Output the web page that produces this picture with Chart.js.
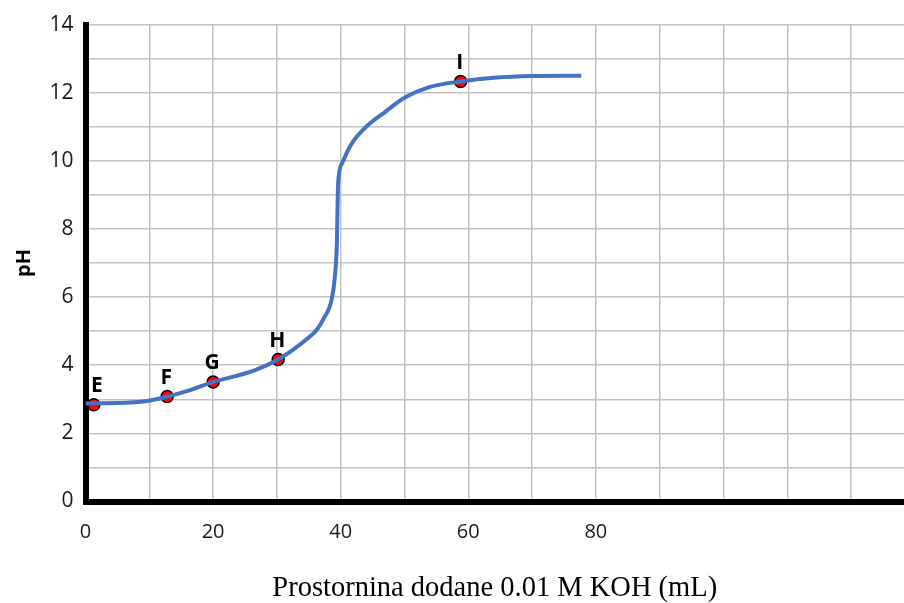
<!DOCTYPE html>
<html>
<head>
<meta charset="utf-8">
<script src="https://cdn.jsdelivr.net/npm/chart.js@4.4.1/dist/chart.umd.min.js"></script>
<style>
  body { margin: 0; background: #fff; }
  #wrap { width: 904px; height: 603px; }
</style>
</head>
<body>
<div id="wrap"><canvas id="chart" width="904" height="603"></canvas></div>
<script>
// titration curve
var curveVolume = [0, 5, 9.6, 12.8, 16.4, 20, 23.5, 26.5, 30.2, 32.5, 34.7, 36.3, 37.3, 38.6, 39.1, 39.4, 39.5, 39.6, 40.2, 41.7, 44, 47, 50, 54, 58.8, 64, 70, 77.7];
var curvePH = [2.88, 2.89, 2.95, 3.08, 3.27, 3.51, 3.68, 3.85, 4.17, 4.45, 4.77, 5.05, 5.36, 5.94, 6.62, 7.59, 8.56, 9.34, 9.92, 10.5, 11.0, 11.44, 11.85, 12.17, 12.33, 12.44, 12.49, 12.5];

var pointNames = ['E', 'F', 'G', 'H', 'I'];
var pointVolume = [1.3, 12.8, 20.0, 30.2, 58.8];
var pointPH = [2.84, 3.08, 3.51, 4.17, 12.33];

var xGridValues = [0, 10, 20, 30, 40, 50, 60, 70, 80, 90, 100, 110, 120];
var xTickLabels = [0, 20, 40, 60, 80];
var yTickLabels = [0, 2, 4, 6, 8, 10, 12, 14];

var toXY = function(xs, ys) {
    return xs.map(function(x, i) { return {x: x, y: ys[i]}; });
};

var pointLabels = {
    id: 'pointLabels',
    afterDatasetsDraw: function(chart) {
        var ctx = chart.ctx;
        var meta = chart.getDatasetMeta(1);
        ctx.save();
        ctx.font = 'bold 21px "Open Sans"';
        ctx.fillStyle = '#000';
        ctx.textAlign = 'center';
        ctx.textBaseline = 'bottom';
        meta.data.forEach(function(el, i) {
            ctx.fillText(pointNames[i], el.x + (i === 0 ? 3 : -1), el.y - 8);
        });
        ctx.restore();
    }
};

var gridGray = '#c2c2c2';

new Chart('chart', {
    type: 'scatter',
    data: {
        datasets: [{
            label: 'pH',
            data: toXY(curveVolume, curvePH),
            showLine: true,
            borderColor: '#4472c4',
            borderWidth: 4,
            pointRadius: 0,
            cubicInterpolationMode: 'monotone'
        }, {
            label: 'points',
            data: toXY(pointVolume, pointPH),
            showLine: false,
            pointRadius: 6,
            pointBackgroundColor: '#ff0000',
            pointBorderColor: '#000',
            pointBorderWidth: 1.5
        }]
    },
    options: {
        responsive: false,
        animation: false,
        devicePixelRatio: 1,
        layout: { autoPadding: false, padding: { top: 20, left: 0, right: 0, bottom: 0 } },
        plugins: {
            legend: { display: false },
            tooltip: { enabled: false }
        },
        scales: {
            x: {
                type: 'linear',
                min: 0,
                max: 128.3,
                afterBuildTicks: function(scale) {
                    scale.ticks = xGridValues.map(function(v) { return {value: v}; });
                },
                afterFit: function(scale) {
                    scale.height = 101.5;
                    scale.paddingLeft = 0;
                    scale.paddingRight = 0;
                },
                border: { display: true, color: '#000', width: 6 },
                grid: { drawTicks: false, lineWidth: 1.5, color: gridGray },
                ticks: {
                    autoSkip: false,
                    maxRotation: 0,
                    padding: 19,
                    color: '#1a1a1a',
                    font: { family: '"Open Sans"', size: 20 },
                    callback: function(v) { return xTickLabels.indexOf(v) >= 0 ? String(v) : ''; }
                },
                title: {
                    display: true,
                    text: 'Prostornina dodane 0.01 M KOH (mL)',
                    color: '#000',
                    font: { family: '"Liberation Serif"', size: 28.5 },
                    padding: { top: 0, bottom: -3 }
                }
            },
            y: {
                min: 0,
                max: 14,
                afterFit: function(scale) { scale.width = 85.5; },
                border: { display: true, color: '#000', width: 6 },
                grid: { drawTicks: false, lineWidth: 1.5, color: gridGray },
                ticks: {
                    stepSize: 1,
                    autoSkip: false,
                    padding: 12,
                    color: '#1a1a1a',
                    font: { family: '"Open Sans"', size: 21 },
                    callback: function(v) { return yTickLabels.indexOf(v) >= 0 ? String(v) : ''; }
                },
                title: {
                    display: true,
                    text: 'pH',
                    color: '#000',
                    font: { family: '"Open Sans"', size: 20, weight: 'bold' },
                    padding: { top: 12, bottom: 0 }
                }
            }
        }
    },
    plugins: [pointLabels]
});
</script>
</body>
</html>
